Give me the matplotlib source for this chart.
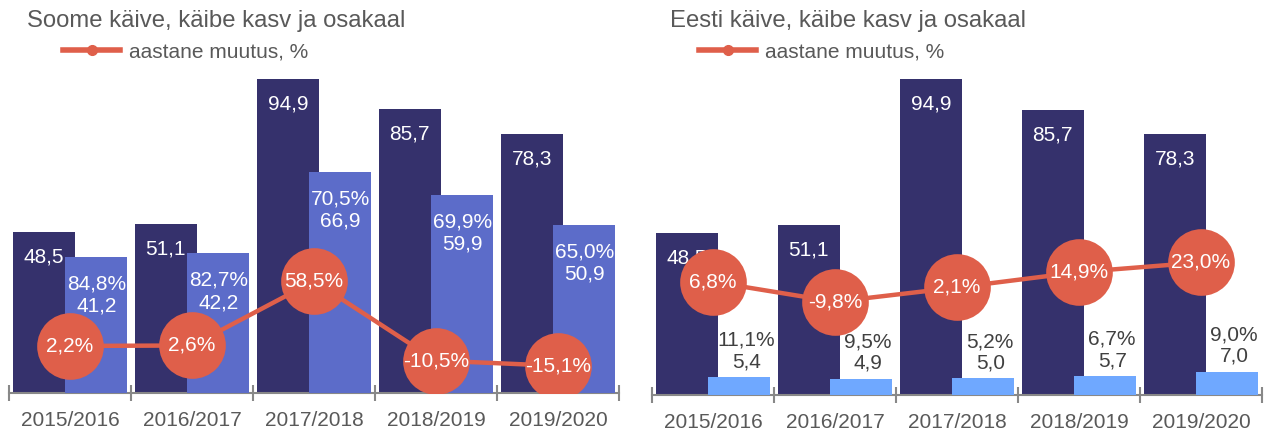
import matplotlib.pyplot as plt
from matplotlib.lines import Line2D

plt.rcParams["font.family"] = ["Liberation Sans", "DejaVu Sans"]

years = ["2015/2016", "2016/2017", "2017/2018", "2018/2019", "2019/2020"]
total_turnover = [48.5, 51.1, 94.9, 85.7, 78.3]

fin_turnover = [41.2, 42.2, 66.9, 59.9, 50.9]
fin_share = ["84,8%", "82,7%", "70,5%", "69,9%", "65,0%"]
fin_growth = [2.2, 2.6, 58.5, -10.5, -15.1]

est_turnover = [5.4, 4.9, 5.0, 5.7, 7.0]
est_share = ["11,1%", "9,5%", "5,2%", "6,7%", "9,0%"]
est_growth = [6.8, -9.8, 2.1, 14.9, 23.0]

DARK = "#35316c"
FIN_COL = "#5c6cc9"
EST_COL = "#6fa8ff"
LINE_COL = "#df5f4a"
TEXT = "#595959"
AXIS = "#888888"

W, H = 1264, 430


def fmt(v, pct=False):
    s = f"{v:.1f}".replace(".", ",")
    return s + "%" if pct else s


def draw_panel(left, bottom_px, title, legend_x, sub_vals, sub_share, sub_col, growth, g_lim, inside):
    fig = plt.gcf()
    ax = fig.add_axes([left / W, (H - bottom_px) / H, 610 / W, (bottom_px - 62) / H])
    n = len(years)
    xd = [i + 0.5 - 0.215 for i in range(n)]
    xl = [i + 0.5 + 0.215 for i in range(n)]
    ax.bar(xd, total_turnover, width=0.51, color=DARK, zorder=2)
    ax.bar(xl, sub_vals, width=0.51, color=sub_col, zorder=3)
    for x, v in zip(xd, total_turnover):
        ax.annotate(fmt(v), (x, v), xytext=(0, -18), textcoords="offset points",
                    ha="center", va="center", color="white", fontsize=15, zorder=5)
    for x, v, s in zip(xl, sub_vals, sub_share):
        if inside:
            dx, offs, col = 0, (-19.5, -35.5), "white"
        else:
            dx, offs, col = 5, (26.5, 11), "#404040"
        ax.annotate(s, (x, v), xytext=(dx, offs[0]), textcoords="offset points",
                    ha="center", va="center", color=col, fontsize=15, zorder=5)
        ax.annotate(fmt(v), (x, v), xytext=(dx, offs[1]), textcoords="offset points",
                    ha="center", va="center", color=col, fontsize=15, zorder=5)
    ax.set_xlim(0, n)
    ax.set_ylim(0, 100)
    for sp in ["top", "left", "right"]:
        ax.spines[sp].set_visible(False)
    ax.spines["bottom"].set_color(AXIS)
    ax.spines["bottom"].set_linewidth(1.5)
    ax.set_yticks([])
    ax.set_xticks(range(n + 1))
    ax.set_xticklabels([])
    ax.tick_params(axis="x", which="major", direction="inout", length=12, width=1.5, color=AXIS)
    ax.set_xticks([i + 0.5 for i in range(n)], minor=True)
    ax.set_xticklabels(years, minor=True, fontsize=15, color=TEXT)
    ax.tick_params(axis="x", which="minor", length=0, pad=13)

    ax2 = ax.twinx()
    ax2.set_ylim(*g_lim)
    ax2.set_axis_off()
    xc = [i + 0.5 for i in range(n)]
    ax2.plot(xc, growth, color=LINE_COL, lw=3.2, marker="o", markersize=48,
             markeredgewidth=0, zorder=4)
    for x, g in zip(xc, growth):
        ax2.text(x, g, fmt(g, True), ha="center", va="center", color="white",
                 fontsize=15, zorder=6)

    fig.text((left + 18) / W, 1 - 21 / H, title, ha="left", va="center",
             fontsize=17.2, color=TEXT)
    handle = Line2D([], [], color=LINE_COL, lw=4, marker="o", markersize=7)
    fig.legend([handle], ["aastane muutus, %"], loc="center left",
               bbox_to_anchor=(legend_x / W, 1 - 52 / H), frameon=False,
               fontsize=15, labelcolor=TEXT, handlelength=2.75, handletextpad=0.42,
               borderpad=0, borderaxespad=0)


fig = plt.figure(figsize=(W / 100, H / 100), dpi=100)
draw_panel(9, 393, "Soome käive, käibe kasv ja osakaal", 63, fin_turnover, fin_share,
           FIN_COL, fin_growth, (-38.7, 249), True)
draw_panel(652, 395, "Eesti käive, käibe kasv ja osakaal", 699, est_turnover, est_share,
           EST_COL, est_growth, (-87.5, 190), False)
fig.savefig("out.png", dpi=100)
